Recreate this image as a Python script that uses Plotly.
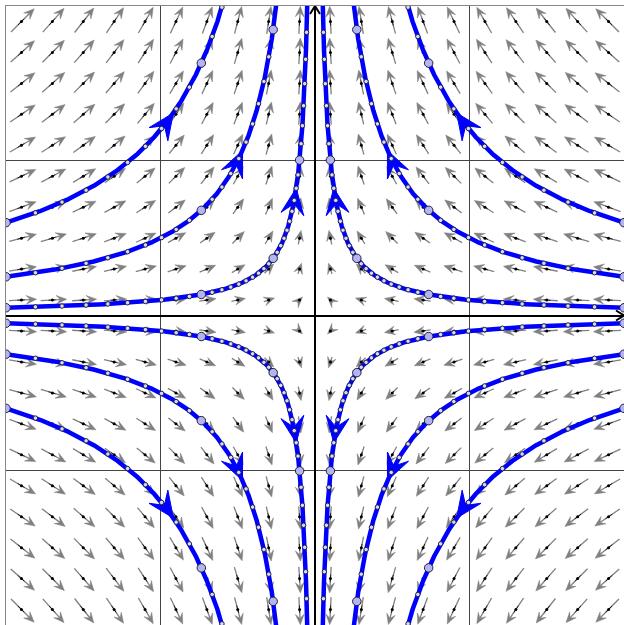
import numpy as np
import plotly.graph_objects as go

# linear system  x' = A x  (saddle)
A = [[-1.0, 0.0], [0.0, 1.0]]

# starting points of the trajectories (on the left/right edges)
X0 = [2, 2, 2, 2, 2, 2, -2, -2, -2, -2, -2, -2]
Y0 = [0.05, 0.25, 0.6, -0.05, -0.25, -0.6, 0.05, 0.25, 0.6, -0.05, -0.25, -0.6]
# time where the big arrowhead sits, by |y0|
ARROW_T = {0.05: 2.8, 0.25: 1.45, 0.6: 0.78}

# vector field sample points
GRID = [-1.9, -1.7, -1.5, -1.3, -1.1, -0.9, -0.7, -0.5, -0.3, -0.1,
        0.1, 0.3, 0.5, 0.7, 0.9, 1.1, 1.3, 1.5, 1.7, 1.9]
XR = [-2, 2]
YR = [-2, 2]

S = 154.6  # pixels per unit
A = np.array(A)


def field(x, y):
    return A[0, 0] * x + A[0, 1] * y, A[1, 0] * x + A[1, 1] * y


def head(tip, d, hl, hw, notch):
    # stealth style arrowhead polygon
    n = np.array([-d[1], d[0]])
    back = tip - hl * d
    p1 = back + hw * n
    p2 = tip - notch * hl * d
    p3 = back - hw * n
    pts = [tip, p1, p2, p3, tip]
    return [p[0] for p in pts], [p[1] for p in pts]


fig = go.Figure()

# ---- gray direction field
lx, ly, hx, hy, bx, by, dx_, dy_ = [], [], [], [], [], [], [], []
for gx in GRID:
    for gy in GRID:
        u, v = field(gx, gy)
        m = np.hypot(u, v)
        d = np.array([u, v]) / m
        L = 20 * np.sqrt(m) / S
        p = np.array([gx, gy])
        tail = p - 0.45 * L * d
        tip = p + 0.55 * L * d
        hl = 10.5 / S
        notch = tip - 0.6 * hl * d
        if L > 0.6 * hl:
            lx += [tail[0], notch[0], None]
            ly += [tail[1], notch[1], None]
        xs, ys = head(tip, d, hl, 4.4 / S, 0.6)
        hx += xs + [None]
        hy += ys + [None]
        a = p - 0.15 * L * d
        b = p + 0.12 * L * d
        bx += [a[0], b[0], None]
        by += [a[1], b[1], None]
        dx_.append(gx)
        dy_.append(gy)

fig.add_trace(go.Scatter(x=lx, y=ly, mode='lines', line=dict(color='#808080', width=1.3),
                         hoverinfo='skip', showlegend=False))
fig.add_trace(go.Scatter(x=hx, y=hy, mode='lines', fill='toself', fillcolor='#808080',
                         line=dict(color='#808080', width=0.5), hoverinfo='skip', showlegend=False))
fig.add_trace(go.Scatter(x=bx, y=by, mode='lines', line=dict(color='black', width=0.8),
                         hoverinfo='skip', showlegend=False))
fig.add_trace(go.Scatter(x=dx_, y=dy_, mode='markers', marker=dict(color='black', size=3),
                         hoverinfo='skip', showlegend=False))

# ---- trajectories
ahx, ahy = [], []
for x0, y0 in zip(X0, Y0):
    t_end = np.log(2 / abs(y0)) + 0.08
    t = np.linspace(0, t_end, 500)
    x = x0 * np.exp(A[0, 0] * t)
    y = y0 * np.exp(A[1, 1] * t)
    fig.add_trace(go.Scatter(x=x, y=y, mode='lines', line=dict(color='#0000ff', width=4.5),
                             hoverinfo='skip', showlegend=False))
    ta = ARROW_T[abs(y0)]
    tip = np.array([x0 * np.exp(A[0, 0] * ta), y0 * np.exp(A[1, 1] * ta)])
    u, v = field(*tip)
    d = np.array([u, v]) / np.hypot(u, v)
    xs, ys = head(tip, d, 26 / S, 11.5 / S, 0.6)
    ahx += xs + [None]
    ahy += ys + [None]

fig.add_trace(go.Scatter(x=ahx, y=ahy, mode='lines', fill='toself', fillcolor='#0000ff',
                         line=dict(color='#0000ff', width=1), hoverinfo='skip', showlegend=False))

sx, sy, kx, ky = [], [], [], []
for x0, y0 in zip(X0, Y0):
    t_end = np.log(2 / abs(y0)) + 0.08
    ts = np.arange(0, t_end, 0.1)
    for i, tt in enumerate(ts):
        xx = x0 * np.exp(A[0, 0] * tt)
        yy = y0 * np.exp(A[1, 1] * tt)
        if i % 10 == 0:
            kx.append(xx)
            ky.append(yy)
        else:
            sx.append(xx)
            sy.append(yy)

fig.add_trace(go.Scatter(x=sx, y=sy, mode='markers',
                         marker=dict(size=4.5, color='#d8d8ff', line=dict(color='#202040', width=1)),
                         hoverinfo='skip', showlegend=False))
fig.add_trace(go.Scatter(x=kx, y=ky, mode='markers',
                         marker=dict(size=8.5, color='#b4b4f0', line=dict(color='#202040', width=1)),
                         hoverinfo='skip', showlegend=False))

# axis arrow chevrons
ch = 8 / S
cw = 5 / S
shapes = [
    dict(type='path', xref='x', yref='y',
         path=f'M{XR[1] - ch},{cw} L{XR[1]},0 L{XR[1] - ch},{-cw}',
         line=dict(color='black', width=2)),
    dict(type='path', xref='x', yref='y',
         path=f'M{-cw},{YR[1] - ch} L0,{YR[1]} L{cw},{YR[1] - ch}',
         line=dict(color='black', width=2)),
]

fig.update_layout(
    width=624, height=625,
    margin=dict(l=6, r=0, t=6, b=0),
    plot_bgcolor='white', paper_bgcolor='white',
    shapes=shapes,
    xaxis=dict(range=XR, dtick=1, showticklabels=False, ticks='',
               gridcolor='#444444', gridwidth=1,
               zeroline=True, zerolinecolor='black', zerolinewidth=2,
               showline=True, linecolor='#888888', linewidth=1, mirror=True),
    yaxis=dict(range=YR, dtick=1, showticklabels=False, ticks='',
               gridcolor='#444444', gridwidth=1,
               zeroline=True, zerolinecolor='black', zerolinewidth=2,
               showline=True, linecolor='#888888', linewidth=1, mirror=True),
)

fig.write_html("out.html", config={'displayModeBar': False},
               post_script="document.body.style.margin='0';document.body.style.overflow='hidden';")
